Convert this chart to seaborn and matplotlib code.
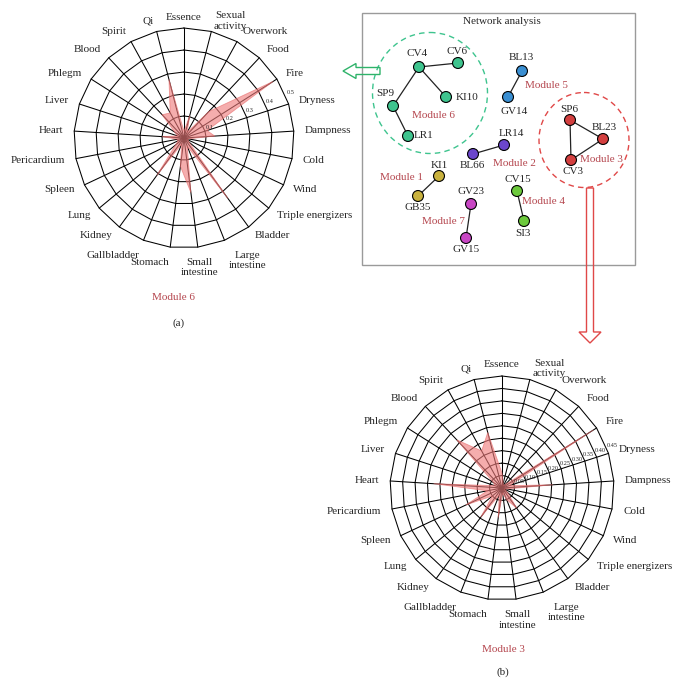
import numpy as np
import matplotlib
matplotlib.use("Agg")
import matplotlib.pyplot as plt
from matplotlib.patches import Ellipse, FancyArrow, Rectangle
import pandas as pd
import seaborn as sns

# radar categories, clockwise from the top
categories = ["Essence", "Sexual\nactivity", "Overwork", "Food", "Fire", "Dryness",
              "Dampness", "Cold", "Wind", "Triple energizers", "Bladder",
              "Large\nintestine", "Small\nintestine", "Stomach", "Gallbladder",
              "Kidney", "Lung", "Spleen", "Pericardium", "Heart", "Liver",
              "Phlegm", "Blood", "Spirit", "Qi"]

module6 = [0.03, 0.105, 0.03, 0.165, 0.48, 0.11, 0.14, 0.02, 0.02, 0.03, 0.34,
           0.04, 0.25, 0.13, 0.03, 0.21, 0.05, 0.03, 0.03, 0.10, 0.03, 0.05,
           0.145, 0.13, 0.275]
module3 = [0.06, 0.02, 0.01, 0.02, 0.435, 0.03, 0.205, 0.02, 0.01, 0.03, 0.10,
           0.05, 0.02, 0.12, 0.03, 0.145, 0.05, 0.16, 0.06, 0.275, 0.03, 0.04,
           0.265, 0.17, 0.23]
ticks6 = [0.1, 0.2, 0.3, 0.4, 0.5]
ticks3 = [0.05, 0.10, 0.15, 0.20, 0.25, 0.30, 0.35, 0.40, 0.45]

# network analysis
node_names = ["CV4", "CV6", "KI10", "SP9", "LR1", "BL13", "GV14", "SP6", "BL23",
              "CV3", "LR14", "BL66", "KI1", "GB35", "GV23", "GV15", "CV15", "SI3"]
node_module = [6, 6, 6, 6, 6, 5, 5, 3, 3, 3, 2, 2, 1, 1, 7, 7, 4, 4]
edges = [("CV4", "CV6"), ("CV4", "KI10"), ("CV4", "SP9"), ("SP9", "LR1"),
         ("BL13", "GV14"), ("SP6", "BL23"), ("SP6", "CV3"), ("CV3", "BL23"),
         ("LR14", "BL66"), ("KI1", "GB35"), ("GV23", "GV15"), ("CV15", "SI3")]

# layout of the network panel (pixel positions)
node_xy = {"CV4": (419, 67), "CV6": (458, 63), "KI10": (446, 97), "SP9": (393, 106),
           "LR1": (408, 136), "BL13": (522, 71), "GV14": (508, 97), "SP6": (570, 120),
           "BL23": (603, 139), "CV3": (571, 160), "LR14": (504, 145), "BL66": (473, 154),
           "KI1": (439, 176), "GB35": (418, 196), "GV23": (471, 204), "GV15": (466, 238),
           "CV15": (517, 191), "SI3": (524, 221)}
label_off = {"CV4": (-2, -13), "CV6": (-1, -11), "KI10": (21, 0), "SP9": (-8, -13),
             "LR1": (16, 0), "BL13": (-1, -13), "GV14": (6, 14), "SP6": (-1, -11),
             "BL23": (1, -11), "CV3": (2, 12), "LR14": (7, -12), "BL66": (-1, 11),
             "KI1": (0, -11), "GB35": (0, 11), "GV23": (0, -12), "GV15": (0, 11),
             "CV15": (1, -11), "SI3": (-1, 12)}
module_label_xy = {6: (433, 116), 5: (546, 86), 3: (601, 159), 2: (514, 163),
                   1: (402, 177), 7: (443, 222), 4: (543, 201)}
palette = {6: "#3ec48e", 5: "#3a8fd2", 3: "#d33f3f", 2: "#6b46cc",
           1: "#c9b23e", 7: "#c846c4", 4: "#6cc93c"}
module_red = "#b5474f"

sns.set_style("white")
plt.rcParams['font.family'] = ['Liberation Serif', 'DejaVu Serif']

W, H = 678, 686
fig = plt.figure(figsize=(W / 100, H / 100), dpi=100)


def radar(center, radius, values, ticks, fmt, tick_angle):
    cx, cy = center
    ax = fig.add_axes([(cx - radius) / W, 1 - (cy + radius) / H,
                       2 * radius / W, 2 * radius / H], projection="polar")
    n = len(categories)
    theta = np.linspace(0, 2 * np.pi, n, endpoint=False)
    closed = np.append(theta, theta[0])
    rmax = ticks[-1]
    ax.set_theta_offset(np.pi / 2)
    ax.set_theta_direction(-1)
    ax.set_ylim(0, rmax)
    ax.grid(False)
    ax.spines["polar"].set_visible(False)
    ax.set_xticks([])
    ax.set_yticks([])
    ax.patch.set_alpha(0)

    for t in ticks:
        ax.plot(closed, np.full(n + 1, t), color="black", lw=0.75, clip_on=False)
    for th in theta:
        ax.plot([th, th], [0, rmax], color="black", lw=0.75, clip_on=False)

    vals = np.append(values, values[0])
    ax.fill(closed, vals, facecolor="#ef7b7b", alpha=0.62, edgecolor="#e86a6a",
            lw=0.6, zorder=3)

    for th, lab in zip(theta, categories):
        s, c = np.sin(th), np.cos(th)
        ha = "left" if s > 0.2 else ("right" if s < -0.05 else "center")
        va = "top" if c < -0.9 else "center"
        ax.text(th, rmax * 1.1, lab, ha=ha, va=va, fontsize=8,
                multialignment="center")

    for t in ticks:
        ax.text(np.deg2rad(tick_angle), t + rmax * 0.05, fmt.format(t),
                fontsize=4.5, ha="center", va="center", zorder=4)
    return ax


radar((184, 138), 110, module6, ticks6, "{:.1f}", 67)
radar((502, 488), 112, module3, ticks3, "{:.2f}", 69)

# overlay in pixel coordinates for the network panel, arrows and captions
ov = fig.add_axes([0, 0, 1, 1])

nodes = pd.DataFrame({"name": node_names, "module": node_module,
                      "x": [node_xy[k][0] for k in node_names],
                      "y": [node_xy[k][1] for k in node_names]})

for a, b in edges:
    ov.plot([node_xy[a][0], node_xy[b][0]], [node_xy[a][1], node_xy[b][1]],
            color="#222222", lw=0.9, zorder=2)

sns.scatterplot(data=nodes, x="x", y="y", hue="module", palette=palette, s=62,
                edgecolor="black", linewidth=0.8, legend=False, ax=ov, zorder=3)

for name in node_names:
    dx, dy = label_off[name]
    ov.text(node_xy[name][0] + dx, node_xy[name][1] + dy, name, fontsize=8,
            ha="center", va="center")

for m, (x, y) in module_label_xy.items():
    ov.text(x, y, f"Module {m}", fontsize=8, color=module_red, ha="center",
            va="center")

ov.add_patch(Rectangle((362, 13), 273, 252, fill=False, ec="#9a9a9a", lw=1))
ov.text(502, 22, "Network analysis", fontsize=8, ha="center", va="center")

ov.add_patch(Ellipse((430, 93), 115, 121, fill=False, ls=(0, (4, 3)),
                     ec="#3ec48e", lw=1))
ov.add_patch(Ellipse((584, 140), 90, 95, fill=False, ls=(0, (4, 3)),
                     ec="#e04848", lw=1))

ov.add_patch(FancyArrow(380, 71, -37, 0, width=7, head_width=15, head_length=13,
                        length_includes_head=True, fill=False, ec="#2fb36a", lw=1))
ov.add_patch(FancyArrow(590, 188, 0, 155, width=7, head_width=22, head_length=11,
                        length_includes_head=True, fill=False, ec="#e04848", lw=1))

ov.text(174, 298, "Module 6", fontsize=8, color=module_red, ha="center", va="center")
ov.text(179, 323, "(a)", fontsize=8, ha="center", va="center")
ov.text(503, 650, "Module 3", fontsize=8, color=module_red, ha="center", va="center")
ov.text(503, 672, "(b)", fontsize=8, ha="center", va="center")

ov.set_xlim(0, W)
ov.set_ylim(H, 0)
ov.set_axis_off()

fig.savefig("out.png", dpi=100)
